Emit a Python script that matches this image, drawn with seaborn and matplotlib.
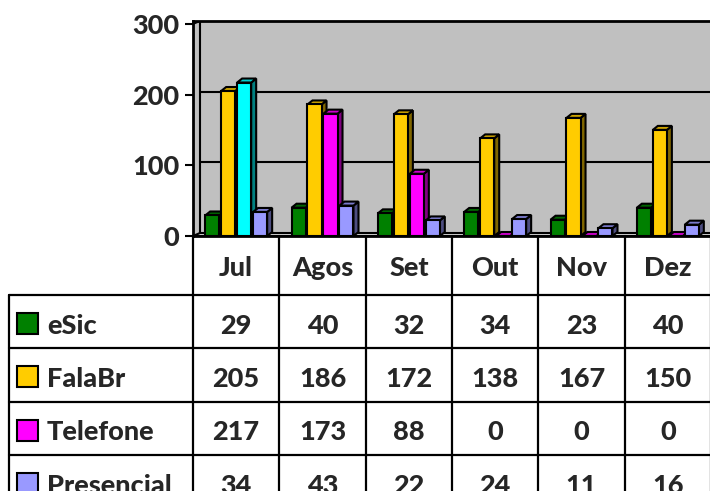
import matplotlib
matplotlib.use("Agg")
import matplotlib.pyplot as plt
import seaborn as sns
import numpy as np
import pandas as pd
from matplotlib.patches import Polygon, Rectangle
from matplotlib.colors import to_rgb

meses = ["Jul", "Agos", "Set", "Out", "Nov", "Dez"]
canais = ["eSic", "FalaBr", "Telefone", "Presencial"]
esic = [29, 40, 32, 34, 23, 40]
falabr = [205, 186, 172, 138, 167, 150]
telefone = [217, 173, 88, 0, 0, 0]
presencial = [34, 43, 22, 24, 11, 16]
cores = ["#008000", "#FFCC00", "#FF00FF", "#9999FF"]
# one point was recoloured by hand in the original (Jul / Telefone)
destaque_mes, destaque_canal, destaque_cor = "Jul", "Telefone", "#00FFFF"

valores = [esic, falabr, telefone, presencial]
df = pd.DataFrame({
    "Mes": meses * len(canais),
    "Canal": np.repeat(canais, len(meses)),
    "Valor": esic + falabr + telefone + presencial,
})

sns.set_theme(style="white")
plt.rcParams["font.family"] = ["Lato", "DejaVu Sans"]
FS = 19.5
FW = 900

W, H = 710, 491
fig = plt.figure(figsize=(W / 100, H / 100), dpi=100)


def box(l, t, r, b):
    return [l / W, 1 - b / H, (r - l) / W, (b - t) / H]


def shade(c, f):
    return tuple(v * f for v in to_rgb(c))


# ---- chart ----
ax = fig.add_axes(box(193, 21, 711, 236))
ax.set_facecolor("#C0C0C0")
sns.barplot(data=df, x="Mes", y="Valor", hue="Canal", order=meses,
            hue_order=canais, palette=cores, width=0.74, gap=0.12,
            saturation=1, edgecolor="black", linewidth=1.5,
            legend=False, ax=ax)
ax.set_xlim(-0.5, 5.5)
ax.set_ylim(0, 304)

# pixel -> data sizes for the fake 3D depth
px_x = 518 / 6
px_y = 215 / 304
dx, dy = 5 / px_x, 4 / px_y          # bar depth
wx, wy = 7 / px_x, 3 / px_y          # back wall offset

# floor
floor = Polygon([(-0.5, 0), (-0.5 + wx, wy), (5.5 + wx, wy), (5.5, 0)],
                closed=True, fc="#D9D9D9", ec="black", lw=1.5, zorder=2)
ax.add_patch(floor)

# back wall edges and gridlines
ax.plot([-0.5 + wx, -0.5 + wx], [wy, 304], color="black", lw=1.5, zorder=1.5)
ax.plot([-0.5, -0.5 + wx], [300, 304], color="black", lw=1.5, zorder=1.5)
for v in [100, 200]:
    ax.plot([-0.5 + wx, 5.5], [v + wy, v + wy], color="black", lw=1.5, zorder=1.5)

for k, cont in enumerate(ax.containers):
    base = cores[k]
    for bar in cont:
        x0, w, h = bar.get_x(), bar.get_width(), bar.get_height()
        i = int(round(x0 + w / 2))
        c = base
        if canais[k] == destaque_canal and meses[i] == destaque_mes:
            c = destaque_cor
            bar.set_facecolor(c)
        z = 3 + k * 0.1
        side = Polygon([(x0 + w, 0), (x0 + w + dx, dy), (x0 + w + dx, h + dy), (x0 + w, h)],
                       closed=True, fc=shade(c, 0.5), ec="black", lw=1.5, zorder=z)
        top = Polygon([(x0, h), (x0 + dx, h + dy), (x0 + w + dx, h + dy), (x0 + w, h)],
                      closed=True, fc=shade(c, 0.8), ec="black", lw=1.5, zorder=z)
        ax.add_patch(side)
        ax.add_patch(top)
        bar.set_zorder(z + 0.05)

ax.set_xticks([])
ax.set_yticks([0, 100, 200, 300])
ax.set_yticklabels(["0", "100", "200", "300"], fontsize=FS, fontweight=FW)
ax.tick_params(axis="y", left=True, length=6, width=1.5, color="black", pad=4)
ax.set_xlabel("")
ax.set_ylabel("")
for s in ["left", "bottom", "top"]:
    ax.spines[s].set_visible(True)
    ax.spines[s].set_color("black")
    ax.spines[s].set_linewidth(2)
ax.spines["right"].set_visible(False)

# ---- data table ----
tax = fig.add_axes(box(9, 236, 711, 491))
col_px = 518 / 6
xmin = -0.5 - 184 / col_px
tax.set_xlim(xmin, 5.5)
tax.set_ylim(255, 0)
tax.axis("off")


def px2x(p):
    return xmin + (p - 9) / col_px


h0, rh = 59, 53.3
bounds = [h0 + rh * r for r in range(len(canais) + 1)]
for yb in bounds:
    tax.plot([xmin, 5.5], [yb, yb], color="black", lw=1.6, clip_on=False)
tax.plot([xmin, xmin], [h0, 300], color="black", lw=1.6, clip_on=False)
for j in range(len(meses) + 1):
    tax.plot([j - 0.5, j - 0.5], [0, 300], color="black", lw=1.6, clip_on=False)

for i, m in enumerate(meses):
    tax.text(i, h0 / 2 + 2, m, ha="center", va="center", fontsize=FS,
             fontweight=FW, clip_on=False)

for r, (nome, serie) in enumerate(zip(canais, valores)):
    yc = h0 + rh * (r + 0.5)
    tax.add_patch(Rectangle((px2x(17), yc - 10.5 + 2), 21 / col_px, 21,
                            fc=cores[r], ec="black", lw=1.5, clip_on=False))
    tax.text(px2x(47), yc + 4, nome, ha="left", va="center", fontsize=FS,
             fontweight=FW, clip_on=False)
    for i, v in enumerate(serie):
        tax.text(i, yc + 4, str(v), ha="center", va="center", fontsize=FS,
                 fontweight=FW, clip_on=False)

fig.savefig("out.png", dpi=100)
